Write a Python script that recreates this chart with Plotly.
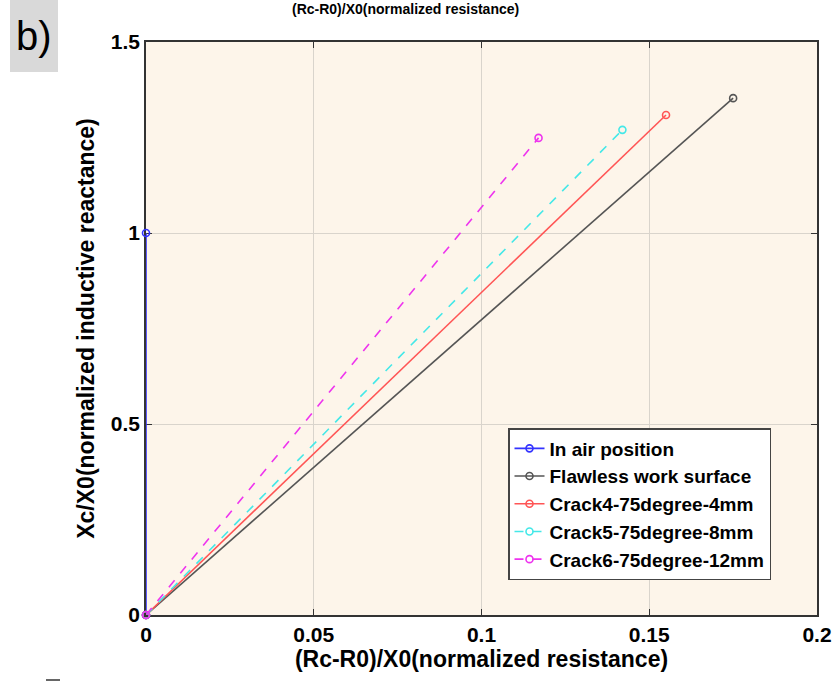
import plotly.graph_objects as go

names = ["In air position", "Flawless work surface", "Crack4-75degree-4mm",
         "Crack5-75degree-8mm", "Crack6-75degree-12mm"]
x_vals = [[0, 0], [0, 0.175], [0, 0.155], [0, 0.142], [0, 0.117]]
y_vals = [[0, 1.0], [0, 1.353], [0, 1.309], [0, 1.270], [0, 1.249]]
colors = ["#3333ff", "#555555", "#ff5555", "#44e8e8", "#ee33ee"]
dashes = ["solid", "solid", "solid", "dash", "dash"]

x_ticks = [0, 0.05, 0.1, 0.15, 0.2]
x_ticklabels = ["0", "0.05", "0.1", "0.15", "0.2"]
y_ticks = [0, 0.5, 1, 1.5]
y_ticklabels = ["0", "0.5", "1", "1.5"]

fig = go.Figure()
for n, xs, ys, c, d in zip(names, x_vals, y_vals, colors, dashes):
    fig.add_trace(go.Scatter(
        x=xs, y=ys, name=n, mode="lines+markers", cliponaxis=False,
        line=dict(color=c, width=1.6, dash=d),
        marker=dict(symbol="circle-open", size=7, color=c, line=dict(width=1.6, color=c)),
    ))

W, H = 832, 683
L, R, T, B = 146, 15, 42, 68
pw, ph = W - L - R, H - T - B

def px(xp):
    return (xp - L) / pw

def py(yp):
    return (H - B - yp) / ph

FONT = "Liberation Sans, Arial, sans-serif"

fig.update_layout(
    width=W, height=H,
    margin=dict(l=L, r=R, t=T, b=B),
    paper_bgcolor="white",
    plot_bgcolor="#fdf5ea",
    font=dict(family=FONT, color="black"),
    showlegend=True,
    legend=dict(
        x=px(508), y=py(428), xanchor="left", yanchor="top",
        bgcolor="white", bordercolor="#444444", borderwidth=1.5,
        font=dict(size=19, family=FONT, weight="bold"),
        itemwidth=30, tracegroupgap=0,
    ),
    xaxis=dict(
        range=[0, 0.2], tickvals=x_ticks, ticktext=x_ticklabels,
        automargin=False, layer="below traces",
        showgrid=True, gridcolor="#d9d4cc", gridwidth=1, zeroline=False,
        showline=True, linecolor="#333333", linewidth=1.5, mirror="ticks",
        ticks="inside", ticklen=6, tickcolor="#333333",
        tickfont=dict(size=21, weight="bold"),
        title=dict(text="(Rc-R0)/X0(normalized resistance)",
                   font=dict(size=23, weight="bold"), standoff=4),
    ),
    yaxis=dict(
        range=[0, 1.5], tickvals=y_ticks, ticktext=y_ticklabels,
        automargin=False, layer="below traces",
        showgrid=True, gridcolor="#d9d4cc", gridwidth=1, zeroline=False,
        showline=True, linecolor="#333333", linewidth=1.5, mirror="ticks",
        ticks="inside", ticklen=6, tickcolor="#333333",
        tickfont=dict(size=21, weight="bold"),
        title=dict(text="Xc/X0(normalized inductive reactance)",
                   font=dict(size=23, weight="bold"), standoff=10),
    ),
    shapes=[
        dict(type="rect", xref="paper", yref="paper",
             x0=px(10), x1=px(58), y0=py(72), y1=py(0),
             fillcolor="#d9d9d9", line=dict(width=0), layer="above"),
        dict(type="line", xref="paper", yref="paper",
             x0=px(46), x1=px(60), y0=py(680), y1=py(680),
             line=dict(color="#333333", width=1.5)),
    ],
    annotations=[
        dict(text="b)", xref="paper", yref="paper", x=px(34), y=py(36),
             xanchor="center", yanchor="middle", showarrow=False,
             font=dict(size=40, color="black", family=FONT)),
        dict(text="(Rc-R0)/X0(normalized resistance)", xref="paper", yref="paper",
             x=px(405), y=py(9), xanchor="center", yanchor="middle", showarrow=False,
             font=dict(size=14, weight="bold", color="black")),
    ],
)

fig.write_html("out.html")
